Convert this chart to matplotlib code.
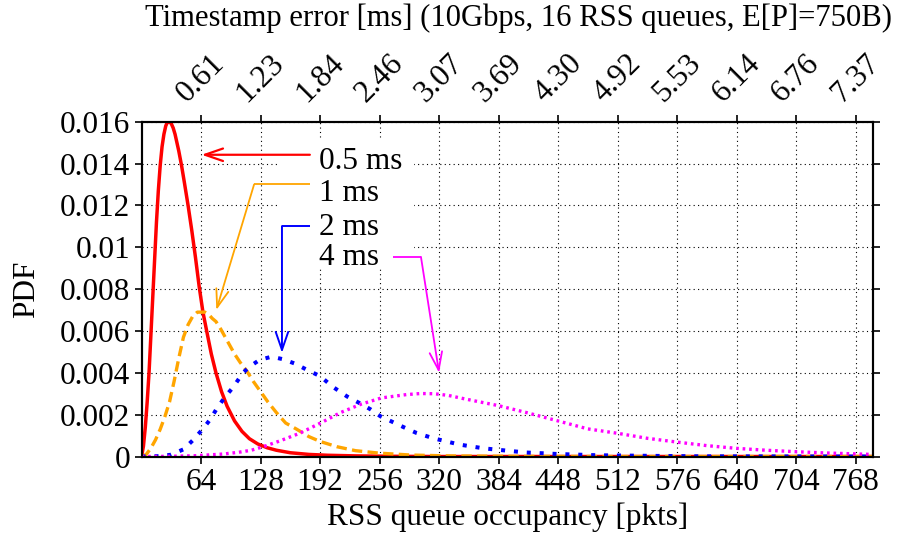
import matplotlib
matplotlib.use("Agg")
import matplotlib.pyplot as plt
from matplotlib.patches import Rectangle
from matplotlib.patches import ArrowStyle

plt.rcParams['font.family'] = ['Liberation Serif', 'DejaVu Serif']
plt.rcParams['font.size'] = 22.5

# ---------------- data ----------------
series_labels = ["0.5 ms", "1 ms", "2 ms", "4 ms"]

red_x = [0, 2, 4, 6, 8, 10, 12, 14, 16, 18, 20, 22, 24, 26, 28, 30, 32, 34, 36, 38,
         40, 43, 46, 50, 54, 58, 62, 66, 70, 75, 80, 86, 92, 100, 108, 116, 125, 135,
         145, 160, 180, 200, 230, 270, 320, 400, 786]
red_y = [0, 0.0005, 0.0014, 0.0026, 0.0040, 0.0058, 0.0076, 0.0094, 0.0112, 0.0127,
         0.0139, 0.0148, 0.0154, 0.0158, 0.0160, 0.0160, 0.0159, 0.0157, 0.0154,
         0.0150, 0.0146, 0.0139, 0.0131, 0.0120, 0.0108, 0.0095, 0.0081, 0.0069,
         0.0060, 0.0049, 0.0040, 0.0031, 0.0024, 0.0017, 0.0012, 0.00085, 0.0006,
         0.00042, 0.0003, 0.00018, 0.0001, 0.00006, 0.00003, 0.00001, 0, 0, 0]

orange_x = [0, 5, 10, 15, 20, 25, 30, 35, 40, 45, 50, 55, 60, 64, 68, 72, 76, 80, 85,
            90, 95, 100, 106, 113, 120, 128, 136, 145, 155, 167, 180, 192, 210, 230,
            256, 290, 330, 400, 500, 786]
orange_y = [0, 0.0001, 0.0004, 0.0008, 0.0013, 0.0019, 0.0026, 0.0036, 0.0047, 0.0057,
            0.0063, 0.0067, 0.0069, 0.0069, 0.0069, 0.0068, 0.0066, 0.00645, 0.0061,
            0.0057, 0.0053, 0.0049, 0.0045, 0.0041, 0.0036, 0.0031, 0.0026, 0.0021,
            0.0016, 0.0013, 0.00095, 0.00072, 0.00047, 0.00028, 0.00016, 0.00007,
            0.00003, 0.00001, 0, 0]

blue_x = [0, 20, 31, 45, 55, 65, 74, 81, 90, 99, 109, 117, 127, 140, 152, 165, 178,
          192, 206, 221, 235, 246, 257, 271, 282, 296, 314, 342, 368, 393, 414, 434,
          447, 490, 550, 600, 786]
blue_y = [0, 0.00002, 0.00008, 0.00034, 0.00077, 0.00127, 0.00178, 0.0023, 0.00286,
          0.00334, 0.0040, 0.00432, 0.00462, 0.00477, 0.00465, 0.00444, 0.00414,
          0.00384, 0.00332, 0.00287, 0.00254, 0.00226, 0.00192, 0.00163, 0.0014,
          0.00112, 0.00087, 0.00057, 0.00039, 0.00028, 0.00019, 0.00015, 0.00012,
          0.00006, 0.00003, 0.00001, 0]

magenta_x = [0, 30, 59, 88, 104, 118, 131, 149, 170, 192, 214, 236, 258, 285, 300,
             315, 330, 348, 384, 414, 448, 480, 512, 544, 576, 608, 640, 672, 704,
             736, 786]
magenta_y = [0, 0.00001, 0.00004, 0.00012, 0.0002, 0.0003, 0.00047, 0.00075, 0.00111,
             0.00159, 0.0021, 0.0025, 0.0028, 0.00296, 0.00301, 0.003, 0.00292,
             0.00275, 0.00243, 0.0021, 0.0017, 0.00132, 0.00111, 0.00087, 0.00069,
             0.00052, 0.00039, 0.0003, 0.00023, 0.00017, 0.0001]

x_ticks = [64, 128, 192, 256, 320, 384, 448, 512, 576, 640, 704, 768]
x_tick_labels = ["64", "128", "192", "256", "320", "384", "448", "512", "576", "640",
                 "704", "768"]
top_tick_labels = ["0.61", "1.23", "1.84", "2.46", "3.07", "3.69", "4.30", "4.92",
                   "5.53", "6.14", "6.76", "7.37"]
y_ticks = [0, 0.002, 0.004, 0.006, 0.008, 0.01, 0.012, 0.014, 0.016]
y_tick_labels = ["0", "0.002", "0.004", "0.006", "0.008", "0.01", "0.012", "0.014",
                 "0.016"]

# ---------------- figure ----------------
fig = plt.figure(figsize=(8.99, 5.34), dpi=100)
ax = fig.add_axes([0.1575, 0.1451, 0.8132, 0.6270])
ax.set_xlim(0, 786.4)
ax.set_ylim(0, 0.016)

ax.set_axisbelow(True)
ax.grid(True, color='black', linestyle=(0, (1, 3)), linewidth=0.8)

# opaque key area
ax.add_patch(Rectangle((149, 0.00902), 144, 0.00612, facecolor='white',
                       edgecolor='none', zorder=1.5))

ax.plot(red_x, red_y, color='#ff0000', lw=2.5, zorder=2, solid_joinstyle='round')
ax.plot(orange_x, orange_y, color='#ffa500', lw=2.4, linestyle=(0, (3.1, 1.6)), zorder=2.1)
ax.plot(blue_x, blue_y, color='#0000ff', lw=2.9, linestyle=(0, (1.0, 2.2)), zorder=2.2)
ax.plot(magenta_x, magenta_y, color='#ff00ff', lw=2.4, linestyle=(0, (0.8, 1.15)), zorder=2.3)

ax.set_xticks(x_ticks)
ax.set_xticklabels(x_tick_labels)
ax.set_yticks(y_ticks)
ax.set_yticklabels(y_tick_labels)
ax.tick_params(axis='both', direction='out', length=5, width=1.2, pad=3,
               right=True, top=False)
for s in ax.spines.values():
    s.set_linewidth(1.5)

ax2 = ax.twiny()
ax2.set_xlim(ax.get_xlim())
ax2.set_xticks(x_ticks)
ax2.set_xticklabels(top_tick_labels, rotation=45, ha='center', va='bottom')
ax2.tick_params(axis='x', direction='out', length=5, width=1.2, pad=5)
for s in ax2.spines.values():
    s.set_linewidth(1.5)

ax.set_xlabel("RSS queue occupancy [pkts]", labelpad=4)
ax.set_ylabel("PDF", labelpad=14)
fig.text(0.577, 0.966, "Timestamp error [ms] (10Gbps, 16 RSS queues, E[P]=750B)",
         ha='center', va='center', fontsize=22.1)

# ---------------- annotations ----------------
colors = ['#ff0000', '#ffa500', '#0000ff', '#ff00ff']
label_y = [0.01374, 0.01219, 0.01060, 0.00916]
arrow_paths = [
    [(181, 0.01442), (64.5, 0.01442)],
    [(181, 0.0130), (121, 0.0130), (80.4, 0.0070)],
    [(181, 0.01101), (151, 0.01101), (151, 0.00495)],
    [(270, 0.00954), (300.5, 0.00954), (320, 0.0040)],
]
arrow_lw = [1.6, 1.3, 1.4, 1.3]
for lab, ly, c in zip(series_labels, label_y, colors):
    ax.text(191, ly, lab, ha='left', va='baseline', zorder=4)

for path, c, lw in zip(arrow_paths, colors, arrow_lw):
    if len(path) > 2:
        xs = [p[0] for p in path[:-1]]
        ys = [p[1] for p in path[:-1]]
        ax.plot(xs, ys, color=c, lw=lw, zorder=3, solid_capstyle='butt')
    ax.annotate("", xy=path[-1], xytext=path[-2],
                arrowprops=dict(arrowstyle=ArrowStyle('->', head_length=1.3, head_width=0.45),
                                color=c, lw=lw, mutation_scale=10,
                                shrinkA=0, shrinkB=0), zorder=3)

fig.savefig("out.png", dpi=100)
